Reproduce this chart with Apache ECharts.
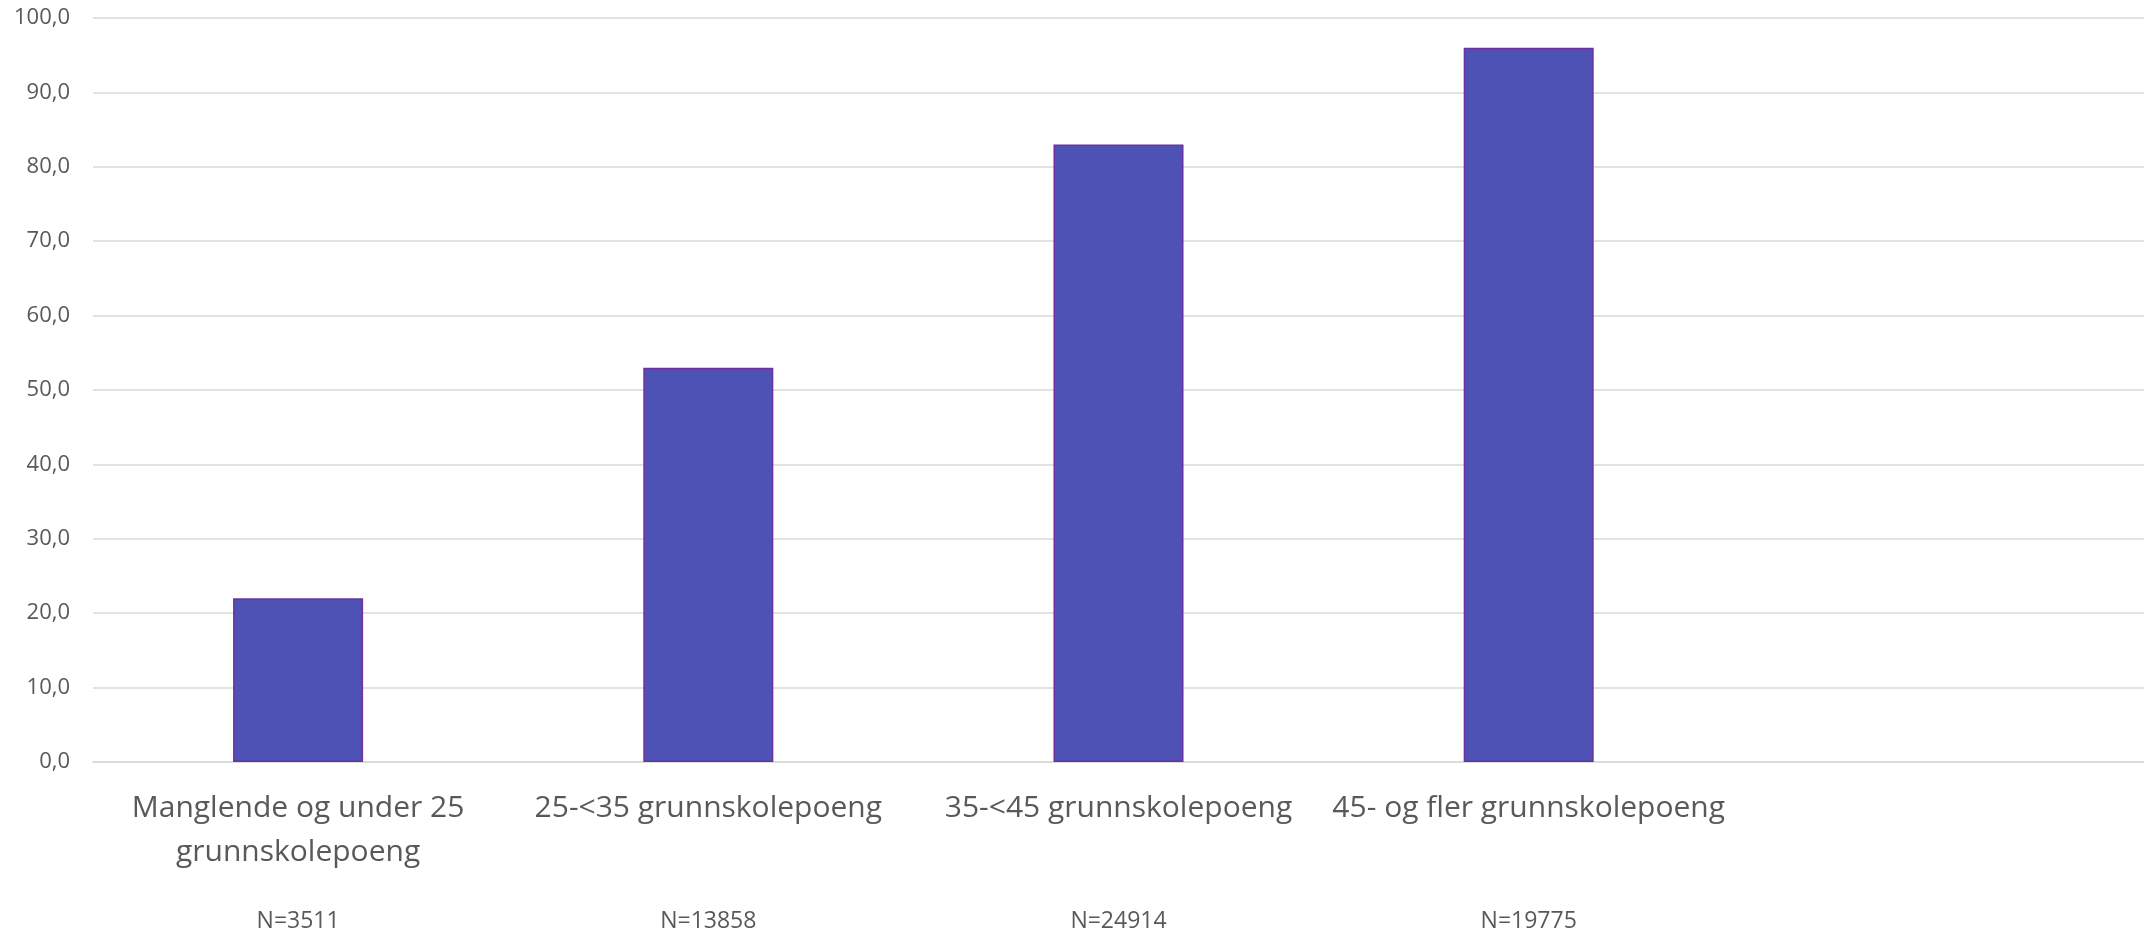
<!DOCTYPE html>
<html>
<head>
<meta charset="utf-8">
<script src="https://cdn.jsdelivr.net/npm/echarts@6/dist/echarts.min.js"></script>
<style>
html,body{margin:0;padding:0;background:#fff;}
#chart{width:2144px;height:937px;}
</style>
</head>
<body>
<div id="chart"></div>
<script>
// Data
const categories = ['Manglende og under 25\ngrunnskolepoeng', '25-<35 grunnskolepoeng', '35-<45 grunnskolepoeng', '45- og fler grunnskolepoeng', ''];
const nLabels = ['N=3511', 'N=13858', 'N=24914', 'N=19775', ''];
const values = [22.0, 53.0, 83.0, 96.0];
const yTicks = { min: 0, max: 100, interval: 10 };

const chart = echarts.init(document.getElementById('chart'), null, { renderer: 'canvas' });
const font = '"Open Sans", "Liberation Sans", sans-serif';
chart.setOption({
  animation: false,
  backgroundColor: '#ffffff',
  grid: { left: 93, right: 0, top: 18, bottom: 175, containLabel: false },
  xAxis: [
    {
      type: 'category',
      data: categories,
      axisLine: { show: true, lineStyle: { color: '#D9D9D9', width: 1.5 } },
      axisTick: { show: false },
      axisLabel: {
        interval: 0, margin: 24, color: '#595959', fontSize: 30, lineHeight: 44,
        fontFamily: font, align: 'center'
      }
    },
    {
      type: 'category',
      position: 'bottom',
      offset: 130,
      data: nLabels,
      axisLine: { show: false },
      axisTick: { show: false },
      splitLine: { show: false },
      axisLabel: {
        interval: 0, margin: 14, color: '#595959', fontSize: 23, lineHeight: 30,
        fontFamily: font
      }
    }
  ],
  yAxis: {
    type: 'value',
    min: yTicks.min, max: yTicks.max, interval: yTicks.interval,
    axisLine: { show: false },
    axisTick: { show: false },
    splitLine: { lineStyle: { color: '#D9D9D9', width: 1.5 } },
    axisLabel: {
      margin: 23, color: '#595959', fontSize: 22, fontFamily: font,
      formatter: v => v.toFixed(1).replace('.', ',')
    }
  },
  series: [{
    type: 'bar',
    xAxisIndex: 0,
    data: values,
    barWidth: '31.7%',
    itemStyle: { color: '#4E52B4', borderColor: '#7030A0', borderWidth: 1.5 }
  }]
});
</script>
</body>
</html>
